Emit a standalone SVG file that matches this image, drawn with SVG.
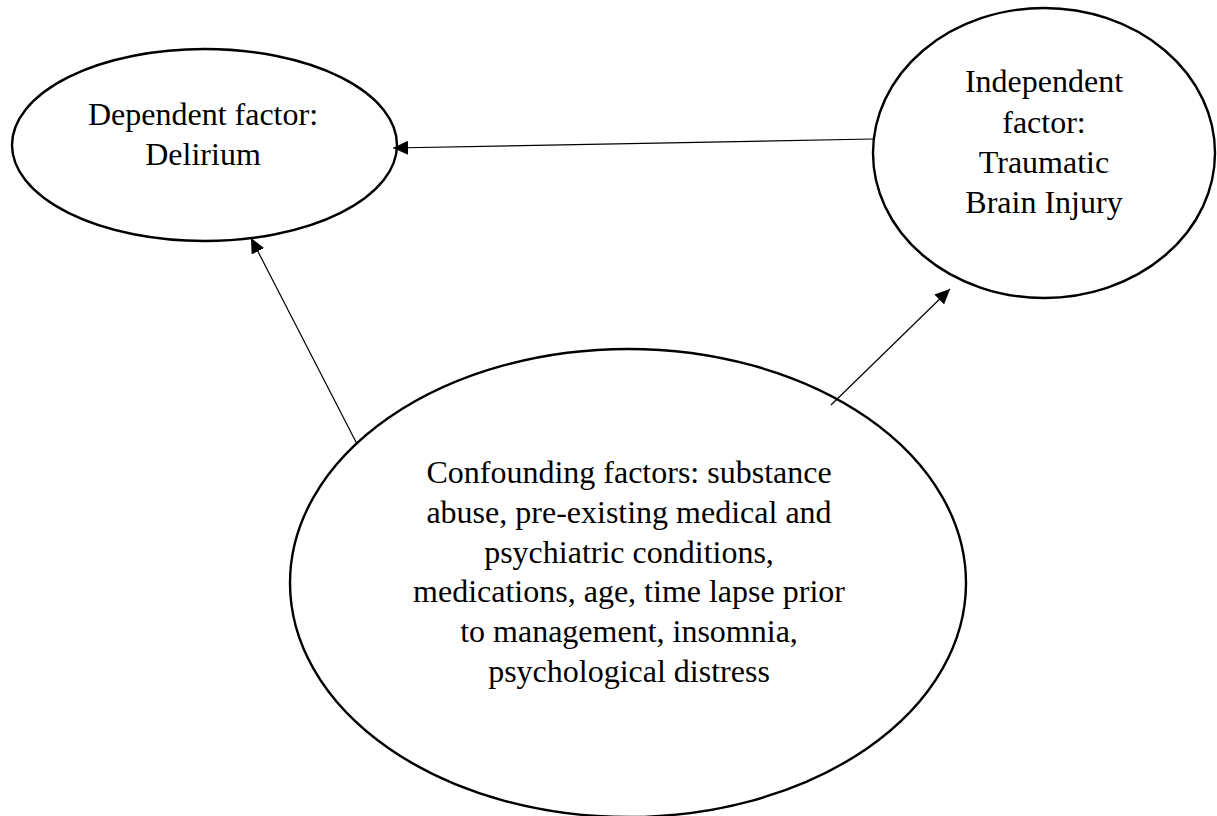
<svg xmlns="http://www.w3.org/2000/svg" width="1217" height="816" viewBox="0 0 1217 816">
<style>
.node{fill:#fff;stroke:#000;stroke-width:2.4}
.lbl{font-family:"Liberation Serif","Times New Roman",serif;font-size:32px;fill:#000;text-anchor:middle}
.edge{stroke:#000;stroke-width:1.2;fill:none}
</style>
<defs>
<marker id="arr" markerUnits="userSpaceOnUse" markerWidth="16" markerHeight="14" refX="15" refY="7" orient="auto">
<path d="M0,0 L15,7 L0,14 z" fill="#000"/>
</marker>
</defs>
<rect width="1217" height="816" fill="#fff"/>
<g id="dependent">
<ellipse class="node" cx="204.5" cy="145" rx="192.5" ry="96"/>
<text class="lbl" x="203" y="125">Dependent factor:</text>
<text class="lbl" x="203" y="165">Delirium</text>
</g>
<g id="independent">
<ellipse class="node" cx="1044" cy="153" rx="171" ry="145"/>
<text class="lbl" x="1044" y="92">Independent</text>
<text class="lbl" x="1044" y="133">factor:</text>
<text class="lbl" x="1044" y="173">Traumatic</text>
<text class="lbl" x="1044" y="213">Brain Injury</text>
</g>
<g id="confounding">
<ellipse class="node" cx="628" cy="583" rx="338" ry="234"/>
<text class="lbl" x="629" y="483">Confounding factors: substance</text>
<text class="lbl" x="629" y="523">abuse, pre-existing medical and</text>
<text class="lbl" x="629" y="563">psychiatric conditions,</text>
<text class="lbl" x="629" y="602">medications, age, time lapse prior</text>
<text class="lbl" x="629" y="642">to management, insomnia,</text>
<text class="lbl" x="629" y="682">psychological distress</text>
</g>
<g id="connectors">
<line class="edge" x1="873" y1="139" x2="393" y2="148" marker-end="url(#arr)"/>
<line class="edge" x1="357" y1="444" x2="251" y2="238" marker-end="url(#arr)"/>
<line class="edge" x1="831" y1="405" x2="950" y2="289" marker-end="url(#arr)"/>
</g>
</svg>
